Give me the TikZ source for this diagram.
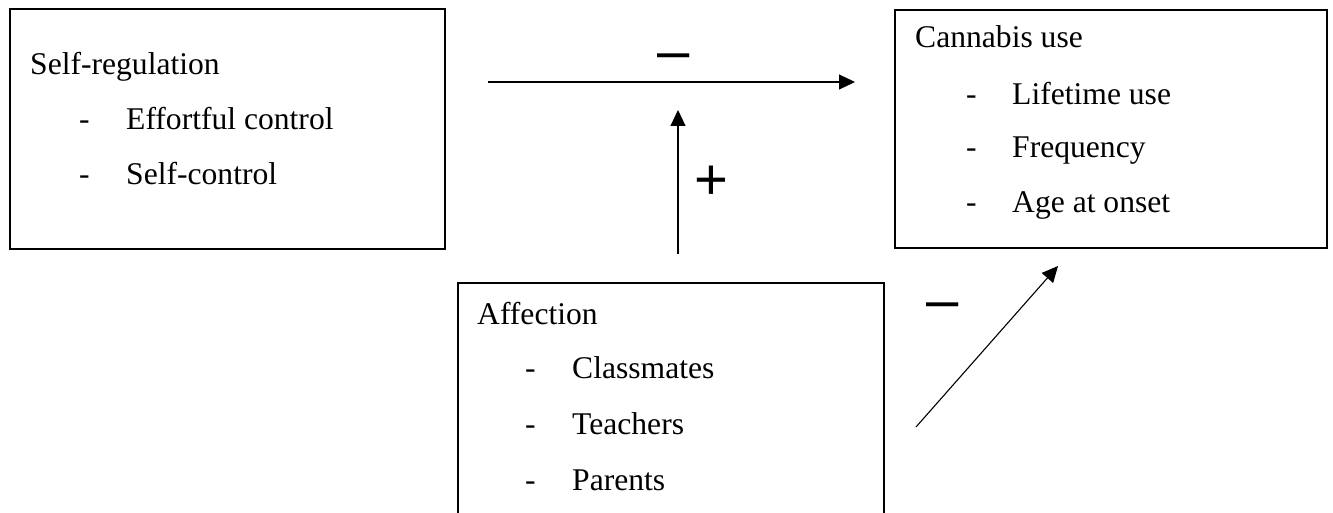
\documentclass[tikz,border=0pt]{standalone}
\usepackage{fontspec}
\setmainfont{Liberation Serif}
\newfontfamily\signfont{Liberation Sans}
\usetikzlibrary{arrows.meta,positioning}

\begin{document}
\begin{tikzpicture}[x=1pt,y=-1pt,
  box/.style={draw,line width=1.8pt,inner sep=0pt,anchor=north west},
  txt/.style={font=\fontsize{31.6}{38}\selectfont,anchor=base west,inner sep=0pt},
  sign/.style={font=\signfont\fontsize{58}{60}\selectfont,anchor=base,inner sep=0pt},
  link/.style={line width=1.1pt,-{Triangle[length=16pt,width=15pt]}}]
\useasboundingbox (0,0) rectangle (1333,513);
\clip (0,0) rectangle (1333,513);
% boxes
\node[box,minimum width=435,minimum height=240] (sr) at (9,8) {};
\node[box,minimum width=432,minimum height=238] (cu) at (894,9) {};
\node[box,minimum width=426,minimum height=260] (af) at (457,282) {};
% box texts
\node[txt] (srhead) at (30,75) {Self-regulation};
\foreach \lab/\yy [count=\i] in {Effortful control/130,Self-control/185}{
  \node[txt] (srdash\i) at (79,\yy) {-};
  \node[txt] (sritem\i) at (126,\yy) {\lab};
}
\node[txt] (cuhead) at (915,48) {Cannabis use};
\foreach \lab/\yy [count=\i] in {Lifetime use/105,Frequency/158,Age at onset/213}{
  \node[txt] (cudash\i) at (966,\yy) {-};
  \node[txt] (cuitem\i) at (1012,\yy) {\lab};
}
\node[txt] (afhead) at (477,324) {Affection};
\foreach \lab/\yy [count=\i] in {Classmates/378,Teachers/434,Parents/490}{
  \node[txt] (afdash\i) at (525,\yy) {-};
  \node[txt] (afitem\i) at (572,\yy) {\lab};
}
% signs
\node[sign] (minustop) at (674,71) {–};
\node[sign] (plusmid) at (711,200) {+};
\node[sign] (minuslow) at (943,319) {–};
% arrows
\coordinate (hstart) at (488,82);
\coordinate (hend) at (855,82);
\coordinate (vstart) at (678,254);
\coordinate (vend) at (678,110);
\coordinate (dstart) at (916,427);
\coordinate (dend) at (1058,266);
\draw[link] (hstart) -- (hend);
\draw[link] (vstart) -- (vend);
\draw[link] (dstart) -- (dend);
\end{tikzpicture}
\end{document}
